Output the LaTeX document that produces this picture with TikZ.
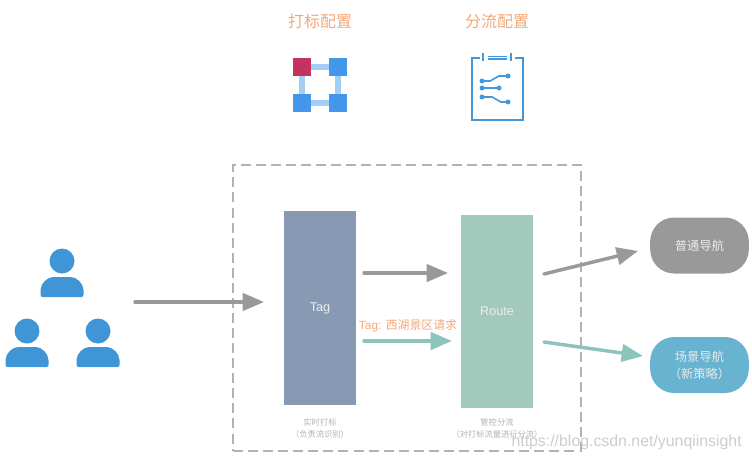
\documentclass[tikz,border=0pt]{standalone}
\usepackage{fontspec}
\setmainfont{Liberation Sans}
\newfontfamily\cjk{Noto Sans CJK SC}
\usepackage{xcolor}
\usetikzlibrary{arrows.meta,backgrounds}
\definecolor{cfgorange}{HTML}{F4A877}
\definecolor{iconred}{HTML}{C43360}
\definecolor{iconblue}{HTML}{4496EA}
\definecolor{iconlight}{HTML}{A3CEF6}
\definecolor{docblue}{HTML}{4298DC}
\definecolor{userblue}{HTML}{4095D6}
\definecolor{tagfill}{HTML}{8899B3}
\definecolor{routefill}{HTML}{A3C9BD}
\definecolor{greynav}{HTML}{999999}
\definecolor{bluenav}{HTML}{68B3CF}
\definecolor{arrgrey}{HTML}{999999}
\definecolor{arrteal}{HTML}{8CC4BC}
\tikzset{
  cfg/.style={font=\cjk\fontsize{12}{12}\selectfont,text=cfgorange,inner sep=0pt},
  sq/.style={minimum size=13.5pt,inner sep=0pt,outer sep=0pt,fill=iconblue},
  sqlink/.style={draw=iconlight,line width=4.2pt},
  block/.style={minimum width=54pt,inner sep=0pt,outer sep=0pt,text=white!92!black,font=\fontsize{9.5}{10}\selectfont},
  nav/.style={rounded corners=18pt,minimum width=74pt,minimum height=42pt,inner sep=0pt,text=white!92!black,align=center,font=\cjk\fontsize{9.2}{12.75}\selectfont},
  capt/.style={align=center,inner sep=0pt,text=black!30,font=\cjk\fontsize{6.2}{9.5}\selectfont},
  arr/.style={-{Triangle[length=16pt,width=13pt]},line width=2.6pt,line cap=round},
}
\begin{document}
\begin{tikzpicture}[x=0.75pt,y=-0.75pt]
\useasboundingbox (0,0) rectangle (752,460);
% config titles
\node[cfg] (tagcfg) at (320,21) {打标配置};
\node[cfg] (routecfg) at (497,21) {分流配置};
% square icon
\node[sq,fill=iconred] (sqa) at (302,67) {};
\node[sq] (sqb) at (338,67) {};
\node[sq] (sqc) at (302,103) {};
\node[sq] (sqd) at (338,103) {};
\begin{scope}[on background layer]
\foreach \p/\q in {sqa/sqb,sqb/sqd,sqd/sqc,sqc/sqa} {\draw[sqlink] (\p) -- (\q);}
\end{scope}
% doc icon
\draw[docblue,line width=1.6pt] (480,58)--(472,58)--(472,120)--(523,120)--(523,58)--(515,58);
\draw[docblue,line width=1.5pt] (483,53.5)--(483,61) (511,53.5)--(511,61);
\draw[docblue,line width=1pt] (488,56.5)--(507,56.5) (488,59)--(507,59);
\draw[docblue,line width=1.2pt] (482,81) -- (490,81) -- (499,76) -- (508,76);
\draw[docblue,line width=1.2pt] (482,88) -- (499,88);
\draw[docblue,line width=1.2pt] (482,97) -- (492,97) -- (501,102) -- (508,102);
\foreach \x/\y in {482/81,508/76,482/88,499/88,482/97,508/102} {\fill[docblue] (\x,\y) circle (2.5);}
% users
\foreach \x/\y in {62/261,27/331,98/331}
{\fill[userblue] (\x,\y) circle (12.5);
 \fill[userblue,rounded corners=1.5pt] (\x-21.5,\y+36) -- (\x-21.5,\y+31) .. controls (\x-21.5,\y+22) and (\x-14,\y+16) .. (\x-7,\y+16) -- (\x+7,\y+16) .. controls (\x+14,\y+16) and (\x+21.5,\y+22) .. (\x+21.5,\y+31) -- (\x+21.5,\y+36) -- cycle;}
% dashed frame
\node[draw=black!30,dash pattern=on 7.5pt off 3.8pt,line width=1.1pt,minimum width=261pt,minimum height=214.5pt,inner sep=0pt,outer sep=0pt] (frame) at (407,308) {};
% blocks
\node[block,fill=tagfill,minimum height=145.5pt] (tag) at (320,308) {Tag};
\node[block,fill=routefill,minimum height=144.75pt] (route) at (497,311.5) {Route};
\node[capt] (tagcap) at (320,428.5) {实时打标\\（负责流识别）};
\node[capt] (routecap) at (497,428.5) {管控分流\\（对打标流量进行分流）};
% targets
\node[nav,fill=greynav] (normal) at (699.5,245.5) {普通导航};
\node[nav,fill=bluenav] (scene) at (699.5,365) {场景导航\\（新策略）};
% connectors
\coordinate (userout) at (135,302);
\coordinate (tagin) at (264,302);
\coordinate (tagouta) at (364,273);
\coordinate (routeina) at (448,273);
\coordinate (tagoutb) at (364,341);
\coordinate (routeinb) at (452,341);
\coordinate (routeouta) at (544,274);
\coordinate (routeoutb) at (544,342);
\coordinate (normalin) at (638,251);
\coordinate (scenein) at (643,356);
\draw[arr,arrgrey] (userout) -- (tagin);
\draw[arr,arrgrey] (tagouta) -- (routeina);
\draw[arr,arrteal] (tagoutb) -- (routeinb);
\draw[arr,arrgrey] (routeouta) -- (normalin);
\draw[arr,arrteal] (routeoutb) -- (scenein);
\node[inner sep=0pt,text=cfgorange,font=\fontsize{8.9}{10}\selectfont] (taglab) at (408,325.5) {Tag: {\cjk 西湖景区请求}};
\node[inner sep=0pt,text=black!20,font=\fontsize{11.9}{14}\selectfont,anchor=east] (mark) at (742,442) {https://blog.csdn.net/yunqiinsight};
\end{tikzpicture}
\end{document}
